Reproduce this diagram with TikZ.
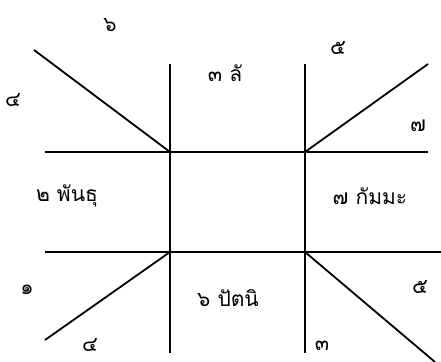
\documentclass[tikz,border=0pt]{standalone}
\usepackage{fontspec}
\newfontfamily\thaifont[Script=Thai]{Loma}
\begin{document}
\begin{tikzpicture}[x=1pt,y=-1pt,
  ln/.style={line width=1.8pt,black},
  lbl/.style={font=\thaifont\fontsize{21}{25}\selectfont,inner sep=0pt,anchor=center}]
\useasboundingbox (0,0) rectangle (441,361);
% corners of central square
\coordinate (TL) at (170,152);
\coordinate (TR) at (305,152);
\coordinate (BL) at (170,252);
\coordinate (BR) at (305,252);
% free ends
\coordinate (vlt) at (170,64);
\coordinate (vlb) at (170,353);
\coordinate (vrt) at (305,64);
\coordinate (vrb) at (305,353);
\coordinate (hlt) at (45,152);
\coordinate (hrt) at (428,152);
\coordinate (hlb) at (45,252);
\coordinate (hrb) at (441,252);
\coordinate (dtl) at (34,50);
\coordinate (dtr) at (428,64);
\coordinate (dbl) at (45,340);
\coordinate (dbr) at (435,362);
\draw[ln] (vlt) -- (vlb);
\draw[ln] (vrt) -- (vrb);
\draw[ln] (hlt) -- (hrt);
\draw[ln] (hlb) -- (hrb);
\draw[ln] (dtl) -- (TL);
\draw[ln] (dtr) -- (TR);
\draw[ln] (dbl) -- (BL);
\draw[ln] (dbr) -- (BR);
% labels
\node[lbl] (n6t) at (110,25) {๖};
\node[lbl] (n5t) at (338,48) {๕};
\node[lbl] (n4l) at (13,100) {๔};
\node[lbl] (n7r) at (418,126) {๗};
\node[lbl] (top) at (225,73) {๓ ลั};
\node[lbl] (left) at (67,196) {๒ พันธุ};
\node[lbl] (right) at (370,196) {๗ กัมมะ};
\node[lbl] (n1) at (27,290) {๑};
\node[lbl] (bottom) at (228,298) {๖ ปัตนิ};
\node[lbl] (n5b) at (420,287) {๕};
\node[lbl] (n4b) at (90,345) {๔};
\node[lbl] (n3b) at (322,346) {๓};
\end{tikzpicture}
\end{document}
